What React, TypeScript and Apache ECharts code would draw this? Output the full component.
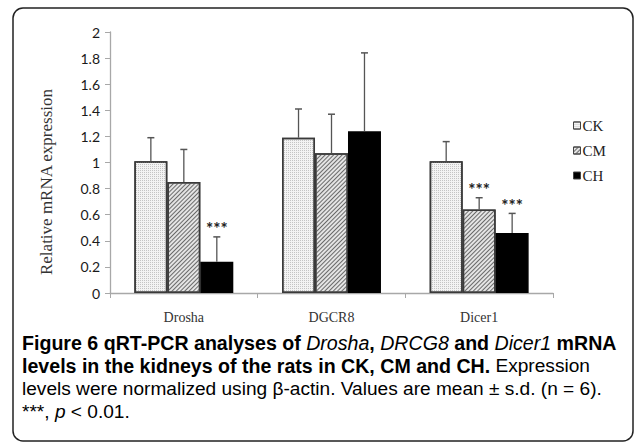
import React, { useEffect, useRef } from "react";
import * as echarts from "echarts";

const categories = ["Drosha", "DGCR8", "Dicer1"];
const groups = ["CK", "CM", "CH"];
const ckMean = [1.01, 1.19, 1.01];
const ckSD = [0.18, 0.22, 0.15];
const cmMean = [0.85, 1.07, 0.64];
const cmSD = [0.25, 0.3, 0.09];
const chMean = [0.24, 1.24, 0.46];
const chSD = [0.19, 0.6, 0.15];
const ckStars = ["", "", ""];
const cmStars = ["", "", "***"];
const chStars = ["***", "", "***"];

const GAP = 0.33;
const serif = "'Liberation Serif', 'Times New Roman', serif";
const sans = "Lato, 'Open Sans', sans-serif";
const capFont = "'Liberation Sans', Arial, sans-serif";
const CAPB = 19.6;
const CAPR = 19.1;
const LH = 22.7;

export default function App() {
  const ref = useRef<HTMLDivElement>(null);
  useEffect(() => {
    if (!ref.current) return;
    const chart = echarts.init(ref.current, null, { renderer: "svg" });
    const means = [ckMean, cmMean, chMean];
    const sds = [ckSD, cmSD, chSD];
    const stars = [ckStars, cmStars, chStars];
    const styles = [
      {
        color: "#f3f3f3",
        borderColor: "#3a3a3a",
        borderWidth: 1.5,
        decal: { symbol: "rect", symbolSize: 1, dashArrayX: [1, 1], dashArrayY: [1, 1], color: "#c4c4c4" },
      },
      {
        color: "#e4e4e4",
        borderColor: "#3a3a3a",
        borderWidth: 1.5,
        decal: { symbol: "rect", symbolSize: 1, dashArrayX: [1, 0], dashArrayY: [1, 2], rotation: -Math.PI / 4, color: "#6a6a6a" },
      },
      { color: "#000", borderColor: "#000", borderWidth: 1.5 },
    ];
    const barSeries = groups.map((g, k) => ({
      name: g,
      type: "bar",
      data: means[k],
      barGap: "0%",
      barCategoryGap: GAP * 100 + "%",
      itemStyle: styles[k],
      z: 2,
    }));
    const errSeries = groups.map((g, k) => ({
      type: "custom",
      name: g + "-err",
      z: 3,
      data: categories.map((c, i) => [i, means[k][i], sds[k][i]]),
      renderItem: (params: any, api: any) => {
        const i = api.value(0);
        const m = api.value(1);
        const e = api.value(2);
        const s = stars[k][i];
        const band = api.size([1, 0])[0];
        const bw = (band * (1 - GAP)) / 3;
        const dx = (k - 1) * bw;
        const p0 = api.coord([i, m]);
        const p1 = api.coord([i, m + e]);
        const x = p0[0] + dx;
        const children: any[] = [
          { type: "line", shape: { x1: x, y1: p0[1], x2: x, y2: p1[1] }, style: { stroke: "#555", lineWidth: 1.3 } },
          { type: "line", shape: { x1: x - 3.5, y1: p1[1], x2: x + 3.5, y2: p1[1] }, style: { stroke: "#555", lineWidth: 1.5 } },
        ];
        if (s) {
          children.push({
            type: "text",
            style: { text: s, x: x, y: p1[1] - 8, align: "center", verticalAlign: "middle", fill: "#222", font: "bold 17px " + sans },
          });
        }
        return { type: "group", children };
      },
      tooltip: { show: false },
    }));

    const rich = {
      b: { fontFamily: capFont, fontWeight: "bold", fontSize: CAPB, color: "#111", lineHeight: LH },
      i: { fontFamily: capFont, fontStyle: "italic", fontSize: CAPB, color: "#111", lineHeight: LH },
      r: { fontFamily: capFont, fontSize: CAPR, color: "#333", lineHeight: LH },
      ri: { fontFamily: capFont, fontStyle: "italic", fontSize: CAPR, color: "#333", lineHeight: LH },
    };

    const caption =
      "{b|Figure 6 qRT-PCR analyses of }{i|Drosha}{b|, }{i|DRCG8}{b| and }{i|Dicer1}{b| mRNA}\n" +
      "{b|levels in the kidneys of the rats in CK, CM and CH.}{r| Expression}\n" +
      "{r|levels were normalized using β-actin. Values are mean ± s.d. (n = 6).}\n" +
      "{r|***, }{ri|p}{r| < 0.01.}";

    chart.setOption({
      animation: false,
      grid: { left: 110, right: 84, top: 32, bottom: 152, containLabel: false },
      legend: {
        orient: "vertical",
        left: 573,
        top: 118,
        itemWidth: 7,
        itemHeight: 7,
        itemGap: 10,
        padding: 0,
        icon: "rect",
        data: groups,
        textStyle: { fontFamily: serif, fontSize: 15, color: "#222", padding: [0, 0, 0, -3] },
        itemStyle: { borderColor: "#444", borderWidth: 1 },
      },
      xAxis: {
        type: "category",
        data: categories,
        axisLine: { lineStyle: { color: "#a8a8a8", width: 1.3 } },
        axisTick: { show: true, length: 5, lineStyle: { color: "#a8a8a8" } },
        axisLabel: { fontFamily: serif, fontSize: 14, color: "#333", margin: 17 },
      },
      yAxis: {
        type: "value",
        min: 0,
        max: 2,
        interval: 0.2,
        axisLine: { show: true, lineStyle: { color: "#a8a8a8", width: 1.3 } },
        axisTick: { show: true, length: 5, lineStyle: { color: "#a8a8a8" } },
        splitLine: { show: false },
        axisLabel: {
          fontFamily: sans,
          fontSize: 14,
          color: "#1a1a1a",
          margin: 10,
          formatter: (v: number) => String(Math.round(v * 10) / 10),
        },
      },
      series: [...barSeries, ...errSeries],
      graphic: [
        {
          type: "rect",
          shape: { x: 13, y: 8, width: 620, height: 433, r: 10 },
          style: { fill: "none", stroke: "#222", lineWidth: 1.5 },
          z: -1,
        },
        {
          type: "text",
          x: 46,
          y: 182,
          rotation: Math.PI / 2,
          style: {
            text: "Relative mRNA expression",
            font: "17px " + serif,
            fill: "#333",
            align: "center",
            verticalAlign: "middle",
          },
        },
        {
          type: "text",
          x: 22,
          y: 343 - LH / 2,
          style: {
            text: caption,
            rich,
            verticalAlign: "top",
          },
        },
      ],
    });
    return () => chart.dispose();
  }, []);
  return <div ref={ref} style={{ position: "absolute", left: 0, top: 0, width: 637, height: 445 }} />;
}
